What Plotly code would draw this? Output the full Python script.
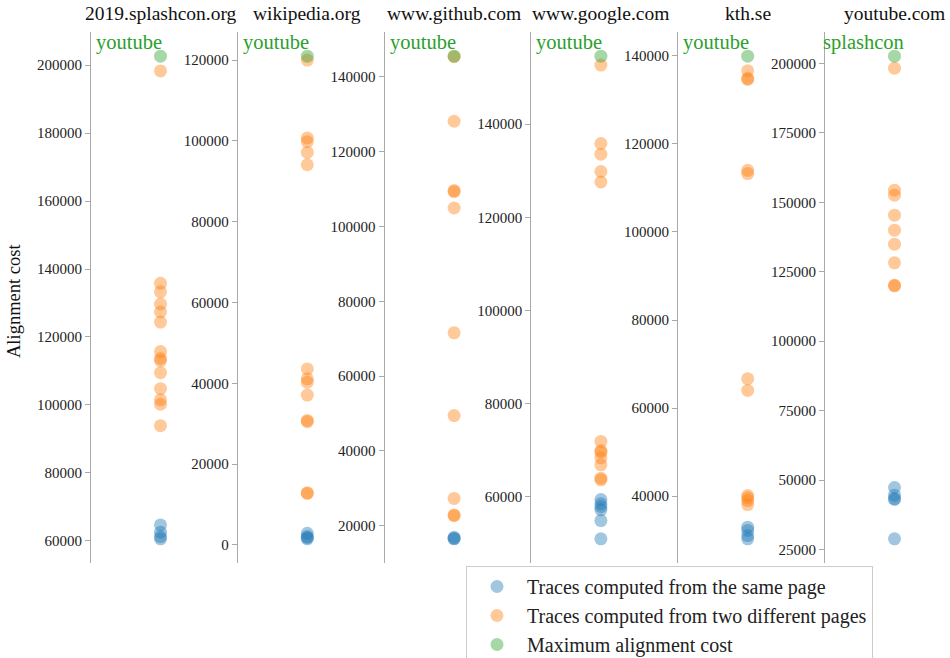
import plotly.graph_objects as go

# ---------------- data ----------------
panel_titles = ["2019.splashcon.org", "wikipedia.org", "www.github.com",
                "www.google.com", "kth.se", "youtube.com"]
max_labels = ["youtube", "youtube", "youtube", "youtube", "youtube", "splashcon"]

same_page = [
    [64700, 62560, 61260, 60590],
    [2880, 2070, 1800, 1500],
    [16610, 16900, 16500],
    [59350, 58430, 57800, 57140, 54840, 50900],
    [32980, 32230, 31070, 30320],
    [47320, 44550, 43350, 43000, 28830],
]
diff_page = [
    [198300, 135800, 133300, 129700, 127350, 124400, 115700, 113700, 113000,
     109500, 104800, 101500, 100200, 93900],
    [120000, 100700, 99800, 97140, 94100, 43560, 41100, 40280, 37080, 30820,
     30500, 12750, 12900],
    [145400, 128140, 109590, 109300, 104940, 71585, 49450, 27310, 22680, 22900],
    [152690, 135850, 133550, 129830, 127600, 71830, 69890, 69530, 68320, 66810,
     63940, 63590],
    [136600, 134640, 134900, 114000, 113260, 66680, 64020, 40160, 39640, 39020,
     38110],
    [198300, 154380, 152580, 145380, 139980, 134940, 128220, 119930, 120100],
]
max_cost = [202650, 120980, 145540, 154620, 139930, 202630]
tick_steps = [20000, 20000, 20000, 20000, 20000, 25000]

series_names = ["Traces computed from the same page",
                "Traces computed from two different pages",
                "Maximum alignment cost"]
colors = ["#1f77b4", "#ff7f0e", "#2ca02c"]

# ---------------- layout geometry ----------------
# figure is a little taller than the window so the legend can run off the
# bottom edge like in the reference (page scrolling is disabled)
W, H = 950, 680
FONT = "Liberation Serif"
spines = [91, 237.8, 384.6, 531.4, 678.2, 825]
panel_w = 146.8
point_off = 69.5
top_px, bot_px = 32, 563

fig = go.Figure()
layout = dict(
    width=W, height=H, autosize=False,
    margin=dict(l=0, r=0, t=0, b=0),
    paper_bgcolor="white", plot_bgcolor="white",
    font=dict(family=FONT, color="#222222"),
    showlegend=True,
)
annotations = []

for i in range(6):
    k = "" if i == 0 else str(i + 1)
    x0 = spines[i]
    x1 = min(x0 + panel_w, W)
    xw = x1 - x0
    groups = [same_page[i], diff_page[i], [max_cost[i]]]
    for j, vals in enumerate(groups):
        fig.add_trace(go.Scatter(
            x=[0] * len(vals), y=vals, mode="markers",
            marker=dict(size=13, color=colors[j], opacity=0.42, line=dict(width=0)),
            name=series_names[j], showlegend=(i == 0),
            xaxis="x" + k, yaxis="y" + k, hoverinfo="y",
        ))
    allv = same_page[i] + diff_page[i] + [max_cost[i]]
    lo, hi = min(allv), max(allv)
    pad = 0.05 * (hi - lo)
    layout["xaxis" + k] = dict(
        domain=[x0 / W, x1 / W], range=[-point_off, xw - point_off],
        visible=False, anchor="y" + k,
    )
    layout["yaxis" + k] = dict(
        domain=[1 - bot_px / H, 1 - top_px / H], range=[lo - pad, hi + pad],
        anchor="x" + k, dtick=tick_steps[i], tickformat="d",
        showgrid=False, zeroline=False, showline=True,
        linecolor="#aaaaaa", linewidth=1.2,
        ticks="outside", ticklen=5, tickcolor="#aaaaaa", tickwidth=1.2,
        tickfont=dict(family=FONT, size=15, color="#222222"),
    )
    # panel title
    annotations.append(dict(
        text=panel_titles[i], xref="paper", yref="paper",
        x=(x0 + point_off) / W, y=1 - 13 / H, xanchor="center", yanchor="middle",
        showarrow=False, font=dict(family=FONT, size=19.5, color="#111111"),
    ))
    # max-cost page label
    annotations.append(dict(
        text=max_labels[i], xref="paper", yref="paper",
        x=(x0 + 38) / W, y=1 - 42 / H, xanchor="center", yanchor="middle",
        showarrow=False, font=dict(family=FONT, size=20.5, color="#2ca02c"),
    ))

annotations.append(dict(
    text="Alignment cost", xref="paper", yref="paper",
    x=14 / W, y=1 - 301 / H, textangle=-90, xanchor="center", yanchor="middle",
    showarrow=False, font=dict(family=FONT, size=18.5, color="#111111"),
))
layout["annotations"] = annotations
layout["legend"] = dict(
    x=466 / W, y=1 - 566 / H, xanchor="left", yanchor="top",
    bgcolor="white", bordercolor="#cccccc", borderwidth=1,
    font=dict(family=FONT, size=20, color="#222222"),
    itemwidth=50, tracegroupgap=0,
)
fig.update_layout(**layout)
fig.write_html(
    "out.html",
    config={"displayModeBar": False},
    post_script="document.body.style.margin='0';document.body.style.overflow='hidden';",
)
